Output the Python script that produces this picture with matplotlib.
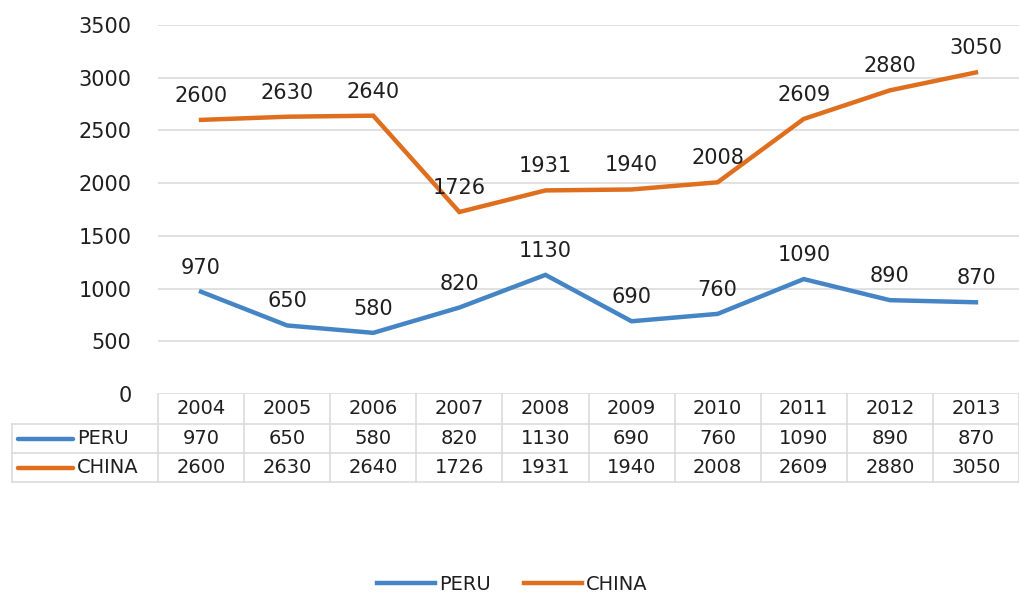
import matplotlib
matplotlib.use("Agg")
import matplotlib.pyplot as plt
from matplotlib.lines import Line2D
import matplotlib.transforms as mtransforms

years = ["2004", "2005", "2006", "2007", "2008", "2009", "2010", "2011", "2012", "2013"]
peru = [970, 650, 580, 820, 1130, 690, 760, 1090, 890, 870]
china = [2600, 2630, 2640, 1726, 1931, 1940, 2008, 2609, 2880, 3050]
series_names = ["PERU", "CHINA"]
colors = ["#4585C5", "#DF6E1E"]
yticks = [0, 500, 1000, 1500, 2000, 2500, 3000, 3500]

W, H = 1020, 593
fig = plt.figure(figsize=(W / 100, H / 100), dpi=100)
fig.patch.set_facecolor("white")

def fx(px):
    return px / W

def fy(py):
    return 1 - py / H

ax_left, ax_right, ax_top, ax_bottom = 158, 1019, 25, 394
ax = fig.add_axes([fx(ax_left), fy(ax_bottom), fx(ax_right - ax_left), (ax_bottom - ax_top) / H])
ax.set_xlim(-0.5, len(years) - 0.5)
ax.set_ylim(0, 3500)
for s in ax.spines.values():
    s.set_visible(False)
ax.set_xticks([])
ax.set_yticks(yticks)
ax.set_yticklabels([str(v) for v in yticks], fontsize=15, color="#1f1f1f")
ax.tick_params(axis="y", length=0, pad=19)
grid_c = "#D9D9D9"
for v in yticks:
    ax.axhline(v, color=grid_c, lw=1.1, zorder=0)

text_c = "#1f1f1f"
x = list(range(len(years)))
for vals, c in zip([peru, china], colors):
    ax.plot(x, vals, color=c, lw=3.2, solid_joinstyle="miter", zorder=3)
    for xi, v in zip(x, vals):
        ax.annotate(str(v), (xi, v), xytext=(0, 24), textcoords="offset pixels",
                    ha="center", va="center", fontsize=15, color=text_c, zorder=4)

# data table
trans = mtransforms.blended_transform_factory(ax.transData, fig.transFigure)
row_y = [394, 424, 453, 482]
col_edges = [i - 0.5 for i in range(len(years) + 1)]
tbl_fs = 14
for e in col_edges:
    ax.add_line(Line2D([e, e], [fy(row_y[0]), fy(row_y[-1])], transform=trans,
                       color=grid_c, lw=1.1, clip_on=False))
for ry in row_y[1:]:
    fig.add_artist(Line2D([fx(12), fx(ax_right)], [fy(ry), fy(ry)], color=grid_c, lw=1.1))
fig.add_artist(Line2D([fx(12), fx(12)], [fy(row_y[1]), fy(row_y[-1])], color=grid_c, lw=1.1))

for xi, yr in zip(x, years):
    ax.text(xi, fy((row_y[0] + row_y[1]) / 2), yr, transform=trans, ha="center", va="center",
            fontsize=tbl_fs, color=text_c, clip_on=False)
for r, (name, vals, c) in enumerate(zip(series_names, [peru, china], colors)):
    cy = fy((row_y[r + 1] + row_y[r + 2]) / 2)
    for xi, v in zip(x, vals):
        ax.text(xi, cy, str(v), transform=trans, ha="center", va="center",
                fontsize=tbl_fs, color=text_c, clip_on=False)
    fig.add_artist(Line2D([fx(18), fx(73)], [cy, cy], color=c, lw=3.2, solid_capstyle="round"))
    fig.text(fx(77), cy, name, ha="left", va="center", fontsize=tbl_fs, color=text_c)

# legend
handles = [Line2D([], [], color=c, lw=3.2) for c in colors]
fig.legend(handles, series_names, loc="center", bbox_to_anchor=(fx(512), fy(584)), ncol=2,
           frameon=False, fontsize=14, handlelength=3.0, handletextpad=0.2, columnspacing=1.7,
           labelcolor=text_c)

fig.savefig("out.png", dpi=100, facecolor="white")
